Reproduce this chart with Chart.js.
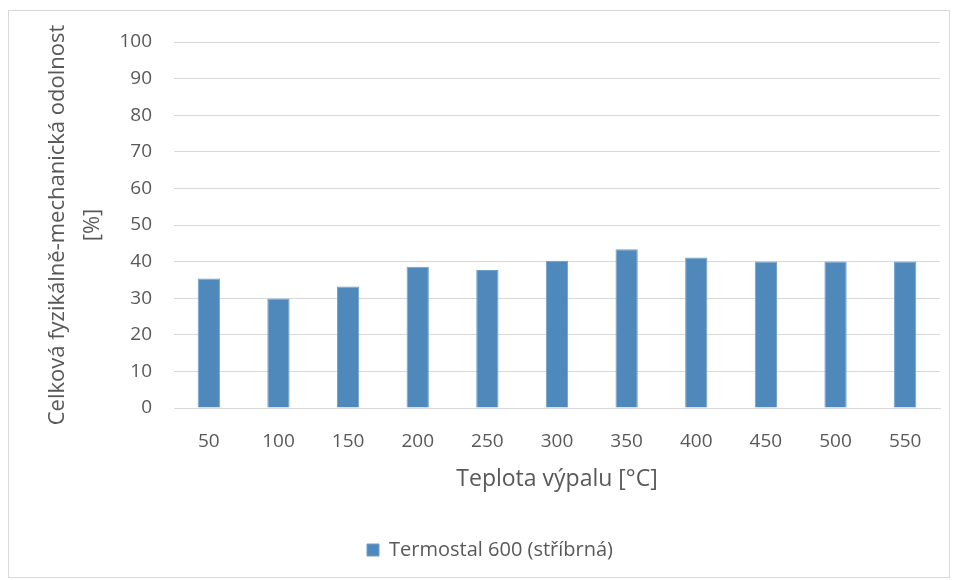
<!DOCTYPE html>
<html>
<head>
<meta charset="utf-8">
<script src="https://cdn.jsdelivr.net/npm/chart.js@4.4.0/dist/chart.umd.min.js"></script>
<style>
  html, body { margin: 0; padding: 0; background: #ffffff; }
  #wrap { width: 955px; height: 580px; position: relative; }
</style>
</head>
<body>
<div id="wrap"><canvas id="c" width="955" height="580"></canvas></div>
<script>
// Firing temperatures [°C]
const temperatures = ['50', '100', '150', '200', '250', '300', '350', '400', '450', '500', '550'];
// Overall physico-mechanical resistance [%]
const resistance = [35.4, 29.9, 33.2, 38.6, 37.7, 40.2, 43.4, 41.1, 40.0, 40.0, 40.0];
const seriesName = 'Termostal 600 (stříbrná)';
const yTitle = ['Celková fyzikálně-mechanická odolnost', '[%]'];
const xTitle = 'Teplota výpalu [°C]';

const textColor = '#595959';
const gridColor = '#d9d9d9';
const barColor = '#4f88bb';
const fontFamily = "'Open Sans', 'Noto Sans', sans-serif";

// Thin light border around the whole chart
const frame = {
  id: 'frame',
  beforeDraw(chart) {
    const ctx = chart.ctx;
    ctx.save();
    ctx.fillStyle = '#ffffff';
    ctx.fillRect(0, 0, chart.width, chart.height);
    ctx.strokeStyle = '#d9d9d9';
    ctx.lineWidth = 1;
    ctx.strokeRect(8.5, 10.5, 941, 567);
    ctx.restore();
  }
};

new Chart(document.getElementById('c'), {
  type: 'bar',
  data: {
    labels: temperatures,
    datasets: [{
      label: seriesName,
      data: resistance,
      backgroundColor: barColor,
      borderColor: '#6f9fcb',
      borderWidth: 1,
      categoryPercentage: 1.0,
      barPercentage: 0.32
    }]
  },
  options: {
    responsive: false,
    animation: false,
    devicePixelRatio: 1,
    layout: { padding: { top: 42, right: 15, left: 40, bottom: 10 } },
    plugins: {
      tooltip: { enabled: false },
      legend: {
        position: 'bottom',
        labels: {
          color: textColor,
          font: { family: fontFamily, size: 20 },
          boxWidth: 12,
          boxHeight: 12,
          padding: 10
        }
      }
    },
    scales: {
      x: {
        grid: { display: false, drawTicks: false },
        border: { display: true, color: gridColor, width: 1 },
        ticks: { color: textColor, font: { family: fontFamily, size: 19 }, padding: 22 },
        title: {
          display: true,
          text: xTitle,
          color: textColor,
          font: { family: fontFamily, size: 23 },
          padding: { top: 6, bottom: 37 }
        },
        afterFit(scale) { scale.height = 122; }
      },
      y: {
        min: 0,
        max: 100,
        ticks: { stepSize: 10, color: textColor, font: { family: fontFamily, size: 19 }, padding: 22 },
        grid: { color: gridColor, lineWidth: 1, drawTicks: false },
        border: { display: false },
        title: {
          display: true,
          text: yTitle,
          color: textColor,
          font: { family: fontFamily, size: 22, lineHeight: 1.6 },
          padding: { top: 0, bottom: 0 }
        },
        afterFit(scale) { scale.width = 134; }
      }
    }
  },
  plugins: [frame]
});
</script>
</body>
</html>
